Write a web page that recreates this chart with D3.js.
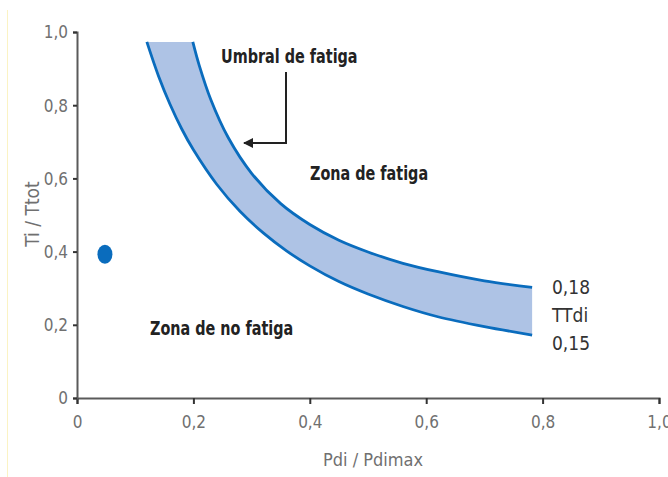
<!DOCTYPE html>
<html>
<head>
<meta charset="utf-8">
<script src="https://cdn.jsdelivr.net/npm/d3@7"></script>
<style>
  body { margin: 0; background: #fff; }
  svg { display: block; }
  text { font-family: "DejaVu Sans Condensed", "Liberation Sans Narrow", sans-serif; }
</style>
</head>
<body>
<svg id="chart" width="668" height="477"></svg>
<script>
// ==================================
// DATA
// ==================================
const xTicks = [0, 0.2, 0.4, 0.6, 0.8, 1.0];
const yTicks = [0, 0.2, 0.4, 0.6, 0.8, 1.0];

// upper threshold curve, TTdi = 0.18  [Pdi/Pdimax, Ti/Ttot]
const upperCurve = [
    [0.199, 0.973], [0.210, 0.909], [0.230, 0.815], [0.260, 0.711],
    [0.300, 0.614], [0.350, 0.531], [0.400, 0.474], [0.450, 0.431],
    [0.500, 0.399], [0.560, 0.368], [0.620, 0.345], [0.700, 0.320],
    [0.782, 0.302]
];
// lower threshold curve, TTdi = 0.15
const lowerCurve = [
    [0.120, 0.973], [0.140, 0.880], [0.160, 0.802], [0.180, 0.735],
    [0.200, 0.678], [0.240, 0.584], [0.280, 0.510], [0.320, 0.451],
    [0.360, 0.402], [0.400, 0.361], [0.450, 0.318], [0.500, 0.284],
    [0.560, 0.250], [0.620, 0.222], [0.700, 0.195], [0.782, 0.172]
];
const point = [0.048, 0.393];

const curveLabels = ["0,18", "TTdi", "0,15"];

// ==================================
// SETUP
// ==================================
const svg = d3.select("#chart");
const x = d3.scaleLinear().domain([0, 1]).range([77, 659]);
const y = d3.scaleLinear().domain([0, 1]).range([398, 32]);
const fmt = d => d === 0 ? "0" : d3.format(".1f")(d).replace(".", ",");

// faint left border from the scan
svg.append("line")
    .attr("x1", 7.5).attr("x2", 7.5).attr("y1", 10).attr("y2", 477)
    .attr("stroke", "#fbf3c4").attr("stroke-width", 1);

// ==================================
// BAND between the two curves
// ==================================
const line = d3.line()
    .x(d => x(d[0]))
    .y(d => y(d[1]))
    .curve(d3.curveCatmullRom.alpha(0.5));

const bandPath = line(upperCurve) + "L" + line(lowerCurve.slice().reverse()).slice(1) + "Z";
svg.append("path")
    .attr("d", bandPath)
    .attr("fill", "#aec3e5");

[upperCurve, lowerCurve].forEach(c => {
    svg.append("path")
        .attr("d", line(c))
        .attr("fill", "none")
        .attr("stroke", "#0a6cbd")
        .attr("stroke-width", 2.8);
});

// ==================================
// AXES
// ==================================
const xAxis = svg.append("g")
    .attr("transform", `translate(0,${y(0)})`)
    .call(d3.axisBottom(x).tickValues(xTicks).tickFormat(fmt).tickSize(6).tickPadding(12));
const yAxis = svg.append("g")
    .attr("transform", `translate(${x(0)},0)`)
    .call(d3.axisLeft(y).tickValues(yTicks).tickFormat(fmt).tickSize(4).tickPadding(5));

[xAxis, yAxis].forEach(g => {
    g.select(".domain").attr("stroke", "#5a5a5a").attr("stroke-width", 2);
    g.selectAll(".tick line").attr("stroke", "#333").attr("stroke-width", 2);
    g.selectAll(".tick text")
        .attr("fill", "#707070")
        .style("font-size", "17px")
        .style("font-family", "'DejaVu Sans Condensed', sans-serif");
});
yAxis.selectAll(".tick text").attr("dy", "0.35em");

// axis titles
svg.append("text")
    .attr("x", 373).attr("y", 466)
    .attr("text-anchor", "middle")
    .attr("fill", "#707070")
    .style("font-size", "18px")
    .text("Pdi / Pdimax");

svg.append("text")
    .attr("transform", "translate(39,214) rotate(-90)")
    .attr("text-anchor", "middle")
    .attr("fill", "#707070")
    .style("font-size", "19px")
    .text("Ti / Ttot");

// ==================================
// POINT
// ==================================
svg.append("ellipse")
    .attr("cx", x(point[0])).attr("cy", y(point[1]))
    .attr("rx", 7.5).attr("ry", 9.5)
    .attr("fill", "#0a6cbd");

// ==================================
// ANNOTATIONS
// ==================================
// condensed bold labels, stretched a little to match the tall face of the original
const bold = (tx, ty, s) => svg.append("text")
    .attr("transform", `translate(${tx},${ty}) scale(1,1.17)`)
    .attr("fill", "#222")
    .style("font-size", "16px")
    .style("font-weight", "bold")
    .text(s);

bold(221, 63, "Umbral de fatiga");
bold(310, 180, "Zona de fatiga");
bold(150, 335, "Zona de no fatiga");

// arrow from label to curve
svg.append("defs").append("marker")
    .attr("id", "arrow")
    .attr("viewBox", "0 0 10 10")
    .attr("refX", 9).attr("refY", 5)
    .attr("markerWidth", 5).attr("markerHeight", 5)
    .attr("orient", "auto")
    .append("path")
    .attr("d", "M0,0L10,5L0,10Z")
    .attr("fill", "#222");

svg.append("path")
    .attr("d", "M286,72V143H244")
    .attr("fill", "none")
    .attr("stroke", "#222")
    .attr("stroke-width", 2)
    .attr("marker-end", "url(#arrow)");

// labels next to curve ends
svg.selectAll(".clabel")
    .data(curveLabels)
    .enter().append("text")
    .attr("class", "clabel")
    .attr("x", 552)
    .attr("y", (d, i) => 294 + i * 28)
    .attr("fill", "#333")
    .style("font-size", "19px")
    .text(d => d);
</script>
</body>
</html>
